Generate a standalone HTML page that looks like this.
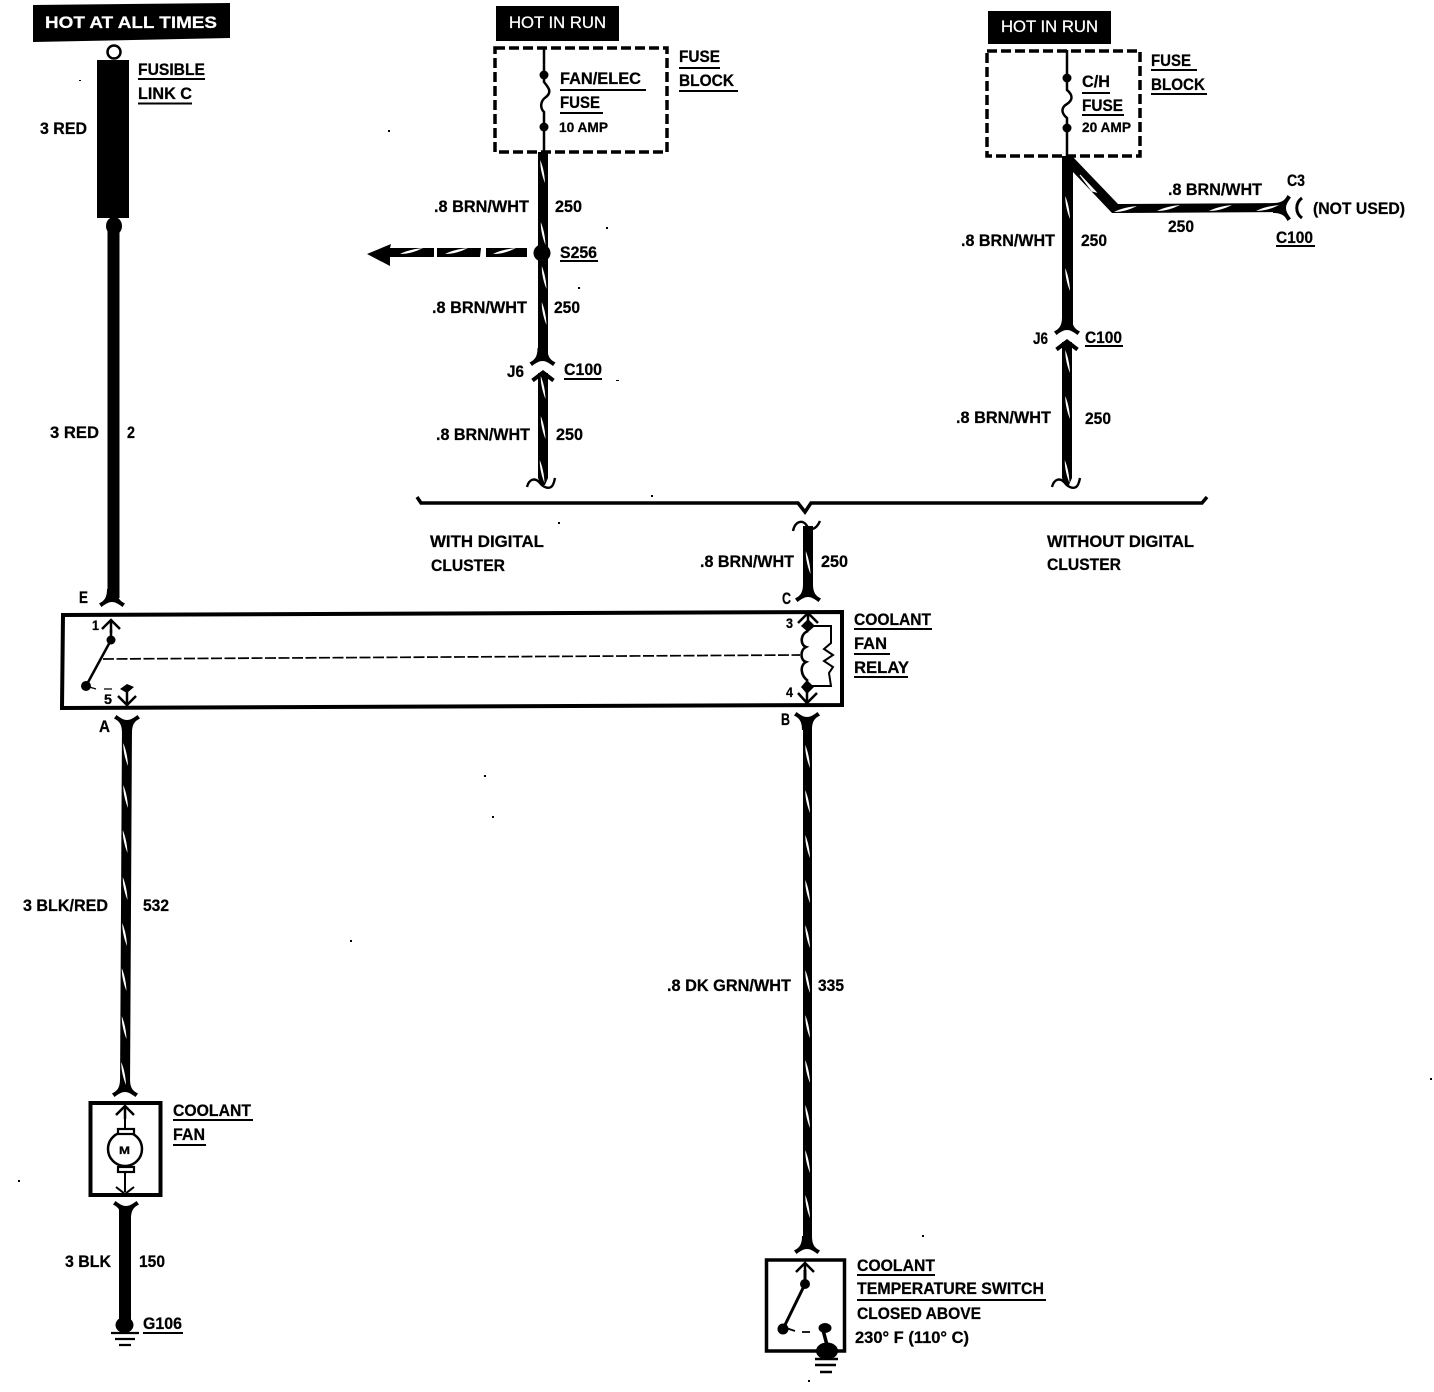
<!DOCTYPE html>
<html>
<head>
<meta charset="utf-8">
<style>
html,body{margin:0;padding:0;background:#fff}
svg{display:block}
text{font-family:"Liberation Sans",sans-serif;font-weight:700;font-size:16.5px;fill:#000;stroke:#000;stroke-width:.25}
.w{fill:#fff;stroke:#fff}
.s{font-size:14px}
</style>
</head>
<body>
<svg width="1434" height="1392" viewBox="0 0 1434 1392" xmlns="http://www.w3.org/2000/svg">
<defs>
<path id="fd" d="M-13,6.500 C-8,4 -5,1 -5,-8 L5,-8 C5,1 8,4 13,6.500 L10.500,10 C6,6.500 3,5 0,5 C-3,5 -6,6.500 -10.500,10 Z"/>
<path id="chev" d="M-10.500,6.500 L0,-1.500 L10.500,6.500" fill="none" stroke="#000" stroke-width="4"/>
<path id="ar" d="M-9,10 L0,1 L9,10 M0,1 L0,14" fill="none" stroke="#000" stroke-width="2.5"/>
<path id="sq" d="M-16,6 C-14,-2 -8,-4 -3,2 C0,6 5,8 8,6 C10,5 11,2 12,-3" fill="none" stroke="#000" stroke-width="2.4"/>
<path id="st" d="M-2.200,0 C0,6 2,12 2.500,23 C0,17 -2.500,8 -2.200,0 Z" fill="#fff"/>
<path id="sth" d="M0,4 C8,0 15,-1 23,-2 C15,2 8,4 0,4 Z" fill="#fff"/>
</defs>

<!-- black label boxes -->
<polygon points="33,5 230,3 230,38 33,42"/>
<rect x="496" y="6" width="123" height="35"/>
<rect x="988" y="11" width="123" height="33"/>
<text class="w" x="45" y="28" textLength="172" lengthAdjust="spacingAndGlyphs" style="font-size:17px">HOT AT ALL TIMES</text>
<text class="w" x="509" y="28" textLength="97" lengthAdjust="spacingAndGlyphs" style="font-weight:400">HOT IN RUN</text>
<text class="w" x="1001" y="32" textLength="97" lengthAdjust="spacingAndGlyphs" style="font-weight:400">HOT IN RUN</text>

<!-- fusible link and left upper wire -->
<circle cx="114" cy="52" r="6.5" fill="#fff" stroke="#000" stroke-width="2.5"/>
<rect x="97" y="60" width="32" height="158"/>
<ellipse cx="114" cy="226" rx="8" ry="9"/>
<rect x="107.500" y="226" width="12" height="372"/>
<use href="#fd" x="112" y="597"/>

<!-- relay box -->
<polygon points="63,615 842,612 842,705 62,708" fill="none" stroke="#000" stroke-width="4"/>
<use href="#ar" x="111" y="619"/>
<path d="M111,630 V640 L86,686" fill="none" stroke="#000" stroke-width="2.5"/>
<circle cx="111" cy="640" r="4.500"/>
<circle cx="86" cy="686" r="5"/>
<path d="M86,686 L96,689 M104,689 H112" stroke="#000" stroke-width="1.300" fill="none"/>
<path d="M120,689 L127,684 L134,687 L127,693 Z"/>
<path d="M127,690 V706 M118,696 L127,705 L136,696" fill="none" stroke="#000" stroke-width="2.500"/>
<path d="M103,659 L800,655" fill="none" stroke="#000" stroke-width="1.700" stroke-dasharray="11 2.500"/>
<path d="M798,623 L808,613 L818,623 M808,613 V626" fill="none" stroke="#000" stroke-width="2.500"/>
<path d="M801,626 L808,619 L815,626 L808,632 Z"/>
<path d="M801,687 L807,680 L814,687 L807,694 Z"/>
<path d="M808,631 C800,634 800,645 806,647 C800,650 800,660 806,662 C800,665 800,675 808,681" fill="none" stroke="#000" stroke-width="2.600"/>
<path d="M808,626 H831 V643 L824,649 L833,655 L824,661 L833,667 L829,673 L831,686 H807" fill="none" stroke="#000" stroke-width="2"/>
<path d="M798,693 L807,703 L817,693 M807,690 V704" fill="none" stroke="#000" stroke-width="2.500"/>

<!-- relay connectors -->
<use href="#fd" x="808" y="592"/>
<use href="#fd" transform="translate(807,722) scale(1,-1)"/>
<use href="#fd" transform="translate(127,725) scale(1,-1)"/>

<!-- lower left wire -->
<polygon points="122,724 132,724 130,1090 120,1090"/>
<use href="#fd" x="125" y="1087"/>
<use href="#st" x="125.500" y="743"/>
<use href="#st" x="125.500" y="785"/>
<use href="#st" x="125" y="830"/>
<use href="#st" x="125" y="877"/>
<use href="#st" x="124.500" y="923"/>
<use href="#st" x="124" y="968"/>
<use href="#st" x="124" y="1016"/>
<use href="#st" x="123.500" y="1062"/>

<!-- fan -->
<rect x="90.500" y="1103" width="70" height="92" fill="none" stroke="#000" stroke-width="4"/>
<use href="#ar" x="125" y="1105"/>
<path d="M125,1110 V1128 M125,1172 V1192 M116,1187 L125,1194 L134,1187" fill="none" stroke="#000" stroke-width="2"/>
<circle cx="125" cy="1149" r="17" fill="#fff" stroke="#000" stroke-width="2.500"/>
<rect x="118" y="1129" width="16" height="5" fill="#fff" stroke="#000" stroke-width="2.200"/>
<rect x="118" y="1167" width="16" height="5" fill="#fff" stroke="#000" stroke-width="2.200"/>
<text x="119" y="1154" textLength="11" lengthAdjust="spacingAndGlyphs" style="font-size:11px">M</text>
<use href="#fd" transform="translate(126,1211) scale(1,-1)"/>
<rect x="119" y="1208" width="12" height="115"/>
<ellipse cx="124.500" cy="1325" rx="9" ry="8"/>
<path d="M111,1333 H139 M115,1339 H135 M119,1345 H131" stroke="#000" stroke-width="2.200"/>

<!-- center lower wire -->
<rect x="803" y="722" width="9" height="522"/>
<use href="#fd" x="807" y="1244"/>
<use href="#st" x="807.500" y="745"/>
<use href="#st" x="807.500" y="790"/>
<use href="#st" x="807.500" y="835"/>
<use href="#st" x="807.500" y="880"/>
<use href="#st" x="807.500" y="925"/>
<use href="#st" x="807.500" y="970"/>
<use href="#st" x="807.500" y="1015"/>
<use href="#st" x="807.500" y="1060"/>
<use href="#st" x="807.500" y="1105"/>
<use href="#st" x="807.500" y="1150"/>
<use href="#st" x="807.500" y="1195"/>

<!-- temperature switch -->
<rect x="766.500" y="1260" width="78" height="91" fill="none" stroke="#000" stroke-width="3.500"/>
<use href="#ar" x="805" y="1262"/>
<path d="M805,1270 V1284 L783,1329" fill="none" stroke="#000" stroke-width="3"/>
<circle cx="805" cy="1284" r="5"/>
<circle cx="783" cy="1329" r="5.500"/>
<path d="M786,1328 L795,1331 M802,1332 H810" stroke="#000" stroke-width="1.800"/>
<ellipse cx="825" cy="1328" rx="6.500" ry="5"/>
<path d="M823,1330 L827,1345" stroke="#000" stroke-width="3.500"/>
<ellipse cx="827" cy="1351" rx="11" ry="8.500"/>
<path d="M815,1359 H838 M815,1365 H836 M820,1372 H832" stroke="#000" stroke-width="2.400"/>

<!-- fuse block 1 -->
<rect x="495" y="48" width="172" height="104" fill="none" stroke="#000" stroke-width="3.500" stroke-dasharray="10 4"/>
<path d="M544,48 V75 V82 C549,88 552,92 546,97 C540,101 540,108 544,112 V127 V152" fill="none" stroke="#000" stroke-width="2.500"/>
<circle cx="544" cy="75" r="4.500"/>
<circle cx="544" cy="127" r="4.500"/>
<rect x="538" y="152" width="10" height="208"/>
<use href="#fd" x="542.500" y="356"/>
<use href="#chev" x="543" y="374"/>
<polygon points="538,373 548,373 548,478 545,485 541,485 538,478"/>
<use href="#st" x="542.500" y="160"/>
<use href="#st" x="543" y="222"/>
<use href="#st" x="544" y="266"/>
<use href="#st" x="544" y="302"/>
<use href="#st" x="543" y="376"/>
<use href="#st" x="543" y="416"/>
<use href="#st" x="542" y="460"/>
<use href="#sq" x="543" y="481"/>
<circle cx="542" cy="253" r="8.500"/>
<polygon points="367,254 391,244 390,248 434,248 434,257 390,257 390,266"/>
<polygon points="437,248 481,248 480,257 437,257"/>
<polygon points="486,248 527,248 527,257 486,257"/>
<use href="#sth" x="400" y="250"/>
<use href="#sth" x="445" y="250"/>
<use href="#sth" x="493" y="250"/>

<!-- fuse block 2 -->
<rect x="987" y="51" width="153" height="105" fill="none" stroke="#000" stroke-width="3.500" stroke-dasharray="10 4"/>
<path d="M1067,50 V78 V90 C1073,95 1073,100 1067,104 C1060,108 1062,114 1067,118 V127 V156" fill="none" stroke="#000" stroke-width="2.500"/>
<circle cx="1067" cy="78" r="4.500"/>
<circle cx="1067" cy="128" r="4.500"/>
<rect x="1062" y="156" width="11" height="172"/>
<polygon points="1063,156 1072,156 1118,204 1284,203 1284,212 1112,213 1073,172"/>
<use href="#fd" transform="translate(1281,208) rotate(-90)"/>
<path d="M1302,198 C1295,203 1295,213 1302,218" fill="none" stroke="#000" stroke-width="3"/>
<use href="#fd" x="1067" y="325"/>
<use href="#chev" x="1067" y="343"/>
<polygon points="1062,342 1072,342 1072,478 1069,485 1065,485 1062,478"/>
<use href="#st" x="1067.500" y="196"/>
<use href="#st" x="1067.500" y="268"/>
<use href="#st" x="1067.500" y="350"/>
<use href="#st" x="1067.500" y="396"/>
<use href="#st" x="1067" y="460"/>
<use href="#sq" x="1068" y="481"/>
<path d="M1080,175 L1096,192 L1092,191 Z" fill="#fff" stroke="#fff"/>
<use href="#sth" x="1114" y="208"/>
<use href="#sth" x="1157" y="207"/>
<use href="#sth" x="1209" y="207"/>
<use href="#sth" x="1256" y="207"/>

<!-- brace -->
<path d="M417,497 L421,503 H798 L805,512 L811,503 H1202 L1207,497" fill="none" stroke="#000" stroke-width="3.500"/>
<path d="M793,531 C795,521 803,519 807,526 C810,531 816,530 820,521" fill="none" stroke="#000" stroke-width="2.400"/>
<rect x="803" y="526" width="10" height="66"/>
<use href="#st" x="808" y="551"/>

<!-- labels -->
<text x="138" y="75" textLength="67" lengthAdjust="spacingAndGlyphs">FUSIBLE</text>
<text x="138" y="99" textLength="54" lengthAdjust="spacingAndGlyphs">LINK C</text>
<text x="40" y="134" textLength="47" lengthAdjust="spacingAndGlyphs">3 RED</text>
<text x="50" y="438" textLength="49" lengthAdjust="spacingAndGlyphs">3 RED</text>
<text x="127" y="438" textLength="8" lengthAdjust="spacingAndGlyphs">2</text>
<text x="560" y="84" textLength="81" lengthAdjust="spacingAndGlyphs">FAN/ELEC</text>
<text x="560" y="108" textLength="40" lengthAdjust="spacingAndGlyphs">FUSE</text>
<text class="s" x="559" y="132" textLength="49" lengthAdjust="spacingAndGlyphs">10 AMP</text>
<text x="679" y="62" textLength="41" lengthAdjust="spacingAndGlyphs">FUSE</text>
<text x="679" y="86" textLength="55" lengthAdjust="spacingAndGlyphs">BLOCK</text>
<text x="434" y="212" textLength="95" lengthAdjust="spacingAndGlyphs">.8 BRN/WHT</text>
<text x="555" y="212" textLength="27" lengthAdjust="spacingAndGlyphs">250</text>
<text x="560" y="258" textLength="37" lengthAdjust="spacingAndGlyphs">S256</text>
<text x="432" y="313" textLength="95" lengthAdjust="spacingAndGlyphs">.8 BRN/WHT</text>
<text x="554" y="313" textLength="26" lengthAdjust="spacingAndGlyphs">250</text>
<text x="507" y="377" textLength="17" lengthAdjust="spacingAndGlyphs">J6</text>
<text x="564" y="375" textLength="38" lengthAdjust="spacingAndGlyphs">C100</text>
<text x="436" y="440" textLength="94" lengthAdjust="spacingAndGlyphs">.8 BRN/WHT</text>
<text x="556" y="440" textLength="27" lengthAdjust="spacingAndGlyphs">250</text>
<text x="430" y="547" textLength="114" lengthAdjust="spacingAndGlyphs">WITH DIGITAL</text>
<text x="431" y="571" textLength="74" lengthAdjust="spacingAndGlyphs">CLUSTER</text>
<text x="1047" y="547" textLength="147" lengthAdjust="spacingAndGlyphs">WITHOUT DIGITAL</text>
<text x="1047" y="570" textLength="74" lengthAdjust="spacingAndGlyphs">CLUSTER</text>
<text x="700" y="567" textLength="94" lengthAdjust="spacingAndGlyphs">.8 BRN/WHT</text>
<text x="821" y="567" textLength="27" lengthAdjust="spacingAndGlyphs">250</text>
<text x="79" y="603" textLength="9" lengthAdjust="spacingAndGlyphs">E</text>
<text x="782" y="604" textLength="9" lengthAdjust="spacingAndGlyphs">C</text>
<text x="854" y="625" textLength="77" lengthAdjust="spacingAndGlyphs">COOLANT</text>
<text x="854" y="649" textLength="33" lengthAdjust="spacingAndGlyphs">FAN</text>
<text x="854" y="673" textLength="55" lengthAdjust="spacingAndGlyphs">RELAY</text>
<text class="s" x="92" y="630" textLength="7" lengthAdjust="spacingAndGlyphs">1</text>
<text class="s" x="104" y="704" textLength="8" lengthAdjust="spacingAndGlyphs">5</text>
<text class="s" x="786" y="628" textLength="7" lengthAdjust="spacingAndGlyphs">3</text>
<text class="s" x="786" y="697" textLength="7" lengthAdjust="spacingAndGlyphs">4</text>
<text x="99" y="732" textLength="11" lengthAdjust="spacingAndGlyphs">A</text>
<text x="781" y="725" textLength="9" lengthAdjust="spacingAndGlyphs">B</text>
<text x="23" y="911" textLength="85" lengthAdjust="spacingAndGlyphs">3 BLK/RED</text>
<text x="143" y="911" textLength="26" lengthAdjust="spacingAndGlyphs">532</text>
<text x="667" y="991" textLength="124" lengthAdjust="spacingAndGlyphs">.8 DK GRN/WHT</text>
<text x="818" y="991" textLength="26" lengthAdjust="spacingAndGlyphs">335</text>
<text x="173" y="1116" textLength="78" lengthAdjust="spacingAndGlyphs">COOLANT</text>
<text x="173" y="1140" textLength="32" lengthAdjust="spacingAndGlyphs">FAN</text>
<text x="65" y="1267" textLength="46" lengthAdjust="spacingAndGlyphs">3 BLK</text>
<text x="139" y="1267" textLength="26" lengthAdjust="spacingAndGlyphs">150</text>
<text x="143" y="1329" textLength="39" lengthAdjust="spacingAndGlyphs">G106</text>
<text x="857" y="1271" textLength="78" lengthAdjust="spacingAndGlyphs">COOLANT</text>
<text x="857" y="1294" textLength="187" lengthAdjust="spacingAndGlyphs">TEMPERATURE SWITCH</text>
<text x="857" y="1319" textLength="124" lengthAdjust="spacingAndGlyphs">CLOSED ABOVE</text>
<text x="855" y="1343" textLength="114" lengthAdjust="spacingAndGlyphs">230° F (110° C)</text>
<text x="1082" y="87" textLength="28" lengthAdjust="spacingAndGlyphs">C/H</text>
<text x="1082" y="111" textLength="41" lengthAdjust="spacingAndGlyphs">FUSE</text>
<text class="s" x="1082" y="132" textLength="49" lengthAdjust="spacingAndGlyphs">20 AMP</text>
<text x="1151" y="66" textLength="40" lengthAdjust="spacingAndGlyphs">FUSE</text>
<text x="1151" y="90" textLength="54" lengthAdjust="spacingAndGlyphs">BLOCK</text>
<text x="1168" y="195" textLength="94" lengthAdjust="spacingAndGlyphs">.8 BRN/WHT</text>
<text x="1287" y="186" textLength="18" lengthAdjust="spacingAndGlyphs">C3</text>
<text x="1313" y="214" textLength="92" lengthAdjust="spacingAndGlyphs">(NOT USED)</text>
<text x="1168" y="232" textLength="26" lengthAdjust="spacingAndGlyphs">250</text>
<text x="1276" y="243" textLength="37" lengthAdjust="spacingAndGlyphs">C100</text>
<text x="961" y="246" textLength="94" lengthAdjust="spacingAndGlyphs">.8 BRN/WHT</text>
<text x="1081" y="246" textLength="26" lengthAdjust="spacingAndGlyphs">250</text>
<text x="1033" y="344" textLength="15" lengthAdjust="spacingAndGlyphs">J6</text>
<text x="1085" y="343" textLength="37" lengthAdjust="spacingAndGlyphs">C100</text>
<text x="956" y="423" textLength="95" lengthAdjust="spacingAndGlyphs">.8 BRN/WHT</text>
<text x="1085" y="424" textLength="26" lengthAdjust="spacingAndGlyphs">250</text>

<!-- underlines -->
<path stroke="#000" stroke-width="2" fill="none" d="M138,79 H205 M138,103.500 H192 M560,90 H646 M560,113 H603 M679,68 H720 M679,91 H738 M560,261 H598 M564,379 H602 M854,629 H932 M854,654 H890 M854,677 H908 M173,1120 H253 M173,1145 H206 M143,1333 H183 M857,1275 H935 M857,1300 H1046 M1082,93 H1110 M1082,115 H1124 M1151,70 H1197 M1151,94 H1207 M1276,246 H1315 M1085,346 H1123"/>

<!-- specks -->
<g>
<rect x="79" y="80" width="2" height="1"/><rect x="388" y="130" width="2" height="2"/><rect x="484" y="775" width="2" height="2"/><rect x="492" y="816" width="2" height="2"/><rect x="1430" y="1078" width="2" height="2"/><rect x="18" y="1180" width="2" height="2"/><rect x="922" y="1235" width="2" height="2"/><rect x="651" y="495" width="2" height="2"/><rect x="558" y="522" width="2" height="2"/><rect x="350" y="940" width="2" height="2"/><rect x="578" y="287" width="2" height="2"/><rect x="606" y="227" width="2" height="2"/><rect x="616" y="380" width="3" height="1"/><rect x="808" y="1380" width="2" height="2"/>
</g>
</svg>
</body>
</html>
